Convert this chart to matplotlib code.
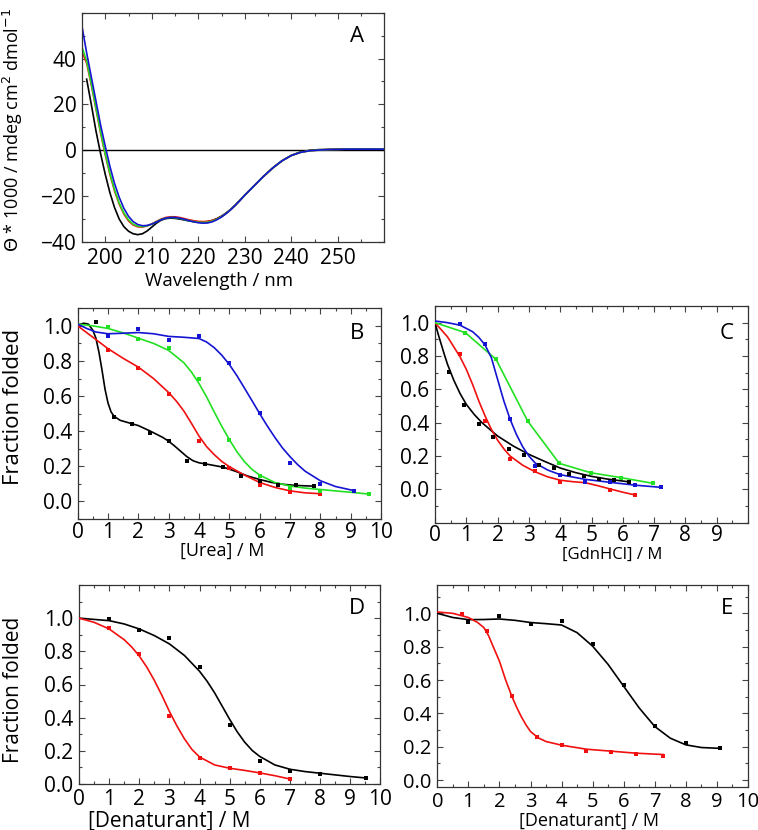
import matplotlib
matplotlib.use('Agg')
import matplotlib.pyplot as plt
from matplotlib.ticker import MultipleLocator, FixedLocator, FormatStrFormatter

plt.rcParams['font.family'] = ['Open Sans', 'DejaVu Sans']

# ---------------- Panel A : CD spectra ----------------
wl_a = [195, 196, 197, 198, 199, 200, 201, 202, 203, 204, 205, 206, 207, 208, 209,
        210, 211, 212, 213, 214, 215, 216, 217, 218, 219, 220, 221, 222, 223, 224,
        225, 226, 227, 228, 229, 230, 232, 234, 236, 238, 240, 242, 244, 246, 248,
        250, 252, 254, 256, 258, 260]
wl_a_black = wl_a[1:]
cd_black = [31.0, 20.0, 8.5, -1.5, -10.5, -18.5, -25.0, -30.0, -33.3, -35.3, -36.4, -36.8, -36.4, -35.2,
            -33.5, -31.8, -30.5, -29.8, -29.6, -29.7, -30.0, -30.4, -30.8, -31.1, -31.3, -31.3, -31.1, -30.6,
            -29.8, -28.7, -27.3, -25.7, -23.8, -21.7, -19.5, -15.5, -11.5, -7.8, -4.6, -2.2, -0.7, 0.0,
            0.3, 0.4, 0.5, 0.5, 0.5, 0.5, 0.5, 0.4]
cd_red = [43.0, 38.0, 28.5, 18.0, 7.5, -2.0, -10.5, -17.8, -23.5, -27.8, -30.8, -32.6, -33.4, -33.5, -33.0,
          -32.1, -31.0, -30.0, -29.3, -29.0, -29.0, -29.3, -29.8, -30.3, -30.7, -31.0, -31.1, -31.0, -30.6, -29.9,
          -28.9, -27.5, -25.8, -23.9, -21.8, -19.6, -15.5, -11.4, -7.7, -4.6, -2.3, -0.9, -0.2, 0.1, 0.3,
          0.4, 0.5, 0.5, 0.5, 0.5, 0.5]
cd_green = [45.0, 39.0, 29.0, 18.5, 8.0, -1.5, -10.0, -17.2, -23.0, -27.3, -30.3, -32.2, -33.1, -33.3, -32.9,
            -32.2, -31.2, -30.2, -29.6, -29.3, -29.4, -29.7, -30.2, -30.7, -31.1, -31.4, -31.5, -31.4, -30.9, -30.1,
            -29.0, -27.5, -25.8, -23.9, -21.8, -19.6, -15.5, -11.4, -7.7, -4.6, -2.3, -0.9, -0.2, 0.1, 0.3,
            0.4, 0.5, 0.5, 0.5, 0.5, 0.5]
cd_blue = [54.0, 42.5, 32.0, 21.5, 11.0, 1.8, -7.0, -14.5, -20.5, -25.3, -28.8, -31.1, -32.4, -32.9, -32.8,
           -32.2, -31.3, -30.3, -29.6, -29.3, -29.3, -29.6, -30.1, -30.7, -31.2, -31.6, -31.8, -31.7, -31.2, -30.3,
           -29.1, -27.6, -25.9, -23.9, -21.8, -19.6, -15.5, -11.4, -7.7, -4.6, -2.3, -0.9, -0.2, 0.1, 0.3,
           0.4, 0.5, 0.5, 0.5, 0.5, 0.5]

# ---------------- Panel B : urea ----------------
b_black_pts_x = [0.6, 1.2, 1.8, 2.4, 3.0, 3.6, 4.2, 4.8, 5.4, 6.0, 6.6, 7.2, 7.8]
b_black_pts_y = [1.02, 0.48, 0.44, 0.39, 0.345, 0.232, 0.213, 0.196, 0.143, 0.119, 0.094, 0.094, 0.087]
b_black_fit_x = [0.0, 0.2, 0.35, 0.5, 0.6, 0.7, 0.8, 0.9, 1.0, 1.1, 1.2, 1.4, 1.7, 2.0, 2.4, 2.8, 3.0,
                 3.2, 3.4, 3.6, 3.8, 4.0, 4.4, 4.8, 5.2, 5.6, 6.0, 6.4, 6.8, 7.2, 7.8]
b_black_fit_y = [1.005, 1.015, 1.01, 0.975, 0.93, 0.85, 0.75, 0.64, 0.56, 0.51, 0.485, 0.462, 0.447, 0.432,
                 0.40, 0.365, 0.343, 0.315, 0.285, 0.255, 0.232, 0.22, 0.208, 0.195, 0.172, 0.145, 0.125,
                 0.108, 0.097, 0.091, 0.087]
b_red_pts_x = [1, 2, 3, 4, 5, 6, 7, 8]
b_red_pts_y = [0.86, 0.762, 0.613, 0.347, 0.19, 0.092, 0.053, 0.042]
b_red_fit_x = [0, 0.5, 1.0, 1.5, 2.0, 2.5, 3.0, 3.25, 3.5, 3.75, 4.0, 4.25, 4.5, 4.75, 5.0, 5.5, 6.0,
               6.5, 7.0, 7.5, 8.0]
b_red_fit_y = [1.0, 0.935, 0.87, 0.815, 0.765, 0.70, 0.62, 0.572, 0.515, 0.445, 0.372, 0.312, 0.267,
               0.228, 0.198, 0.15, 0.108, 0.08, 0.06, 0.049, 0.044]
b_green_pts_x = [1, 2, 3, 4, 5, 6, 7, 8, 9.6]
b_green_pts_y = [0.993, 0.925, 0.874, 0.70, 0.351, 0.143, 0.077, 0.062, 0.04]
b_green_fit_x = [0, 0.5, 1.0, 1.5, 2.0, 2.5, 3.0, 3.5, 3.75, 4.0, 4.25, 4.5, 4.75, 5.0, 5.25, 5.5, 5.75,
                 6.0, 6.5, 7.0, 7.5, 8.0, 8.5, 9.0, 9.6]
b_green_fit_y = [1.01, 1.0, 0.985, 0.96, 0.93, 0.90, 0.86, 0.79, 0.737, 0.672, 0.595, 0.51, 0.428, 0.352,
                 0.283, 0.226, 0.182, 0.15, 0.108, 0.088, 0.076, 0.068, 0.06, 0.052, 0.042]
b_blue_pts_x = [1, 2, 3, 4, 5, 6, 7, 8, 9.1]
b_blue_pts_y = [0.942, 0.98, 0.921, 0.942, 0.789, 0.502, 0.219, 0.102, 0.062]
b_blue_fit_x = [0, 0.3, 0.6, 1.0, 1.5, 2.0, 2.5, 3.0, 3.5, 4.0, 4.25, 4.5, 4.75, 5.0, 5.25, 5.5, 5.75,
                6.0, 6.25, 6.5, 6.75, 7.0, 7.25, 7.5, 8.0, 8.5, 9.1]
b_blue_fit_y = [1.01, 0.985, 0.965, 0.955, 0.958, 0.962, 0.955, 0.94, 0.935, 0.928, 0.908, 0.876, 0.833,
                0.78, 0.716, 0.645, 0.573, 0.50, 0.43, 0.365, 0.305, 0.255, 0.21, 0.172, 0.118, 0.085, 0.062]

# ---------------- Panel C : GdnHCl ----------------
c_black_pts_x = [0.46, 0.93, 1.39, 1.86, 2.35, 2.83, 3.31, 3.79, 4.27, 4.75, 5.23, 5.71, 6.19]
c_black_pts_y = [0.704, 0.506, 0.392, 0.316, 0.245, 0.206, 0.148, 0.13, 0.09, 0.08, 0.062, 0.056, 0.042]
c_black_fit_x = [0, 0.1, 0.2, 0.3, 0.4, 0.6, 0.8, 1.0, 1.25, 1.5, 1.75, 2.0, 2.5, 3.0, 3.5, 4.0, 4.5,
                 5.0, 5.5, 6.2]
c_black_fit_y = [1.0, 0.932, 0.87, 0.808, 0.75, 0.655, 0.575, 0.51, 0.45, 0.40, 0.36, 0.32, 0.26, 0.21,
                 0.168, 0.128, 0.10, 0.078, 0.062, 0.045]
c_red_pts_x = [0.8, 1.6, 2.4, 3.2, 4.0, 4.8, 5.6, 6.4]
c_red_pts_y = [0.812, 0.41, 0.18, 0.112, 0.046, 0.046, -0.004, -0.034]
c_red_fit_x = [0, 0.4, 0.8, 1.0, 1.2, 1.4, 1.6, 1.8, 2.0, 2.2, 2.4, 2.8, 3.2, 3.6, 4.0, 4.4, 4.8, 5.2,
               5.6, 6.0, 6.4]
c_red_fit_y = [1.0, 0.915, 0.795, 0.72, 0.63, 0.53, 0.44, 0.36, 0.295, 0.243, 0.20, 0.145, 0.105, 0.075,
               0.055, 0.046, 0.04, 0.022, 0.002, -0.017, -0.034]
c_blue_pts_x = [0.8, 1.6, 2.4, 3.2, 4.0, 4.8, 5.6, 6.4, 7.23]
c_blue_pts_y = [0.992, 0.874, 0.422, 0.14, 0.086, 0.046, 0.044, 0.024, 0.012]
c_blue_fit_x = [0, 0.4, 0.8, 1.2, 1.4, 1.6, 1.8, 2.0, 2.2, 2.4, 2.6, 2.8, 3.0, 3.2, 3.6, 4.0, 4.8, 5.6,
                6.4, 7.23]
c_blue_fit_y = [1.01, 1.0, 0.985, 0.946, 0.912, 0.866, 0.79, 0.66, 0.53, 0.42, 0.33, 0.256, 0.20, 0.158,
                0.116, 0.088, 0.06, 0.042, 0.025, 0.012]
c_green_pts_x = [0.97, 1.95, 2.96, 3.97, 4.97, 5.95, 6.97]
c_green_pts_y = [0.94, 0.78, 0.41, 0.156, 0.10, 0.07, 0.036]
c_green_line_x = [0, 0.97, 1.95, 2.96, 3.97, 4.97, 5.95, 6.97]
c_green_line_y = [1.0, 0.94, 0.78, 0.41, 0.156, 0.10, 0.07, 0.036]

# ---------------- Panel D ----------------
d_black_pts_x = [1, 2, 3, 4, 5, 6, 7, 8, 9.54]
d_black_pts_y = [0.994, 0.929, 0.879, 0.705, 0.354, 0.141, 0.079, 0.063, 0.038]
d_black_fit_x = [0, 1, 1.5, 2, 2.5, 3, 3.5, 4, 4.25, 4.5, 4.75, 5, 5.25, 5.5, 5.75, 6, 6.5, 7, 7.5, 8,
                 8.5, 9, 9.54]
d_black_fit_y = [1.0, 0.985, 0.965, 0.935, 0.895, 0.845, 0.775, 0.68, 0.62, 0.55, 0.47, 0.39, 0.315,
                 0.252, 0.202, 0.166, 0.115, 0.089, 0.075, 0.065, 0.055, 0.045, 0.036]
d_red_pts_x = [1, 2, 3, 4, 5, 6, 7]
d_red_pts_y = [0.943, 0.782, 0.412, 0.156, 0.095, 0.065, 0.03]
d_red_fit_x = [0, 0.5, 1, 1.5, 1.75, 2, 2.25, 2.5, 2.75, 3, 3.25, 3.5, 3.75, 4, 4.5, 5, 5.5, 6, 6.5, 7]
d_red_fit_y = [1.0, 0.975, 0.935, 0.87, 0.826, 0.772, 0.705, 0.625, 0.535, 0.438, 0.35, 0.272, 0.208,
               0.163, 0.115, 0.095, 0.082, 0.067, 0.05, 0.03]

# ---------------- Panel E ----------------
e_black_pts_x = [1, 2, 3, 4, 5, 6, 7, 8, 9.1]
e_black_pts_y = [0.95, 0.986, 0.936, 0.954, 0.817, 0.57, 0.327, 0.223, 0.19]
e_black_fit_x = [0, 0.5, 1, 1.5, 2, 2.5, 3, 3.5, 4, 4.5, 5, 5.5, 6, 6.5, 7, 7.5, 8, 8.5, 9.1]
e_black_fit_y = [1.0, 0.975, 0.962, 0.963, 0.966, 0.958, 0.945, 0.938, 0.93, 0.884, 0.803, 0.693, 0.562,
                 0.432, 0.321, 0.251, 0.211, 0.195, 0.19]
e_red_pts_x = [0.78, 1.59, 2.41, 3.2, 4.0, 4.79, 5.59, 6.39, 7.27]
e_red_pts_y = [0.994, 0.894, 0.502, 0.257, 0.211, 0.175, 0.171, 0.159, 0.147]
e_red_fit_x = [0, 0.5, 1.0, 1.3, 1.5, 1.65, 1.8, 2.0, 2.2, 2.4, 2.55, 2.7, 2.85, 3.0, 3.25, 3.5, 4.0, 4.8,
               5.6, 6.4, 7.27]
e_red_fit_y = [1.008, 1.0, 0.975, 0.945, 0.914, 0.866, 0.80, 0.713, 0.60, 0.502, 0.438, 0.381, 0.332,
               0.291, 0.253, 0.231, 0.209, 0.185, 0.173, 0.161, 0.153]

BLACK = '#000000'
RED = '#f01010'
GREEN = '#22e022'
BLUE = '#1414d2'

W, H = 758, 830
fig = plt.figure(figsize=(W / 100, H / 100), dpi=100)


def box(l, t, r, b):
    return [l / W, 1 - b / H, (r - l) / W, (b - t) / H]


TICK_FS = 15


def style(ax, xmaj, xmin, ymaj, ymin, xpad=3, ypad=4, fs=TICK_FS):
    ax.xaxis.set_major_locator(xmaj)
    ax.xaxis.set_minor_locator(MultipleLocator(xmin))
    ax.yaxis.set_major_locator(ymaj)
    ax.yaxis.set_minor_locator(MultipleLocator(ymin))
    ax.tick_params(which='both', direction='in', top=True, right=True,
                   width=0.8, color='#444444', labelsize=fs)
    ax.tick_params(which='major', length=4)
    ax.tick_params(which='minor', length=2.5)
    ax.tick_params(axis='x', which='major', pad=xpad)
    ax.tick_params(axis='y', which='major', pad=ypad)
    for s in ax.spines.values():
        s.set_linewidth(0.9)
        s.set_color('#333333')


def series(ax, fx, fy, px, py, c):
    ax.plot(fx, fy, '-', color=c, lw=1.2, zorder=3)
    if px is not None:
        ax.plot(px, py, 's', color=c, ms=3.2, mew=0, zorder=4)


# Panel A
axA = fig.add_axes(box(82, 12.7, 384.3, 242))
axA.axhline(0, color='black', lw=1.0, zorder=2)
axA.plot(wl_a_black, cd_black, color=BLACK, lw=1.2)
axA.plot(wl_a, cd_red, color=RED, lw=1.2)
axA.plot(wl_a, cd_green, color=GREEN, lw=1.2)
axA.plot(wl_a, cd_blue, color=BLUE, lw=1.2)
axA.set_xlim(195, 260)
axA.set_ylim(-40, 60)
style(axA, FixedLocator([200, 210, 220, 230, 240, 250]), 5,
      FixedLocator([-40, -20, 0, 20, 40]), 10, xpad=4.5)

# Panel B
axB = fig.add_axes(box(77.7, 308.3, 381, 519))
series(axB, b_black_fit_x, b_black_fit_y, b_black_pts_x, b_black_pts_y, BLACK)
series(axB, b_red_fit_x, b_red_fit_y, b_red_pts_x, b_red_pts_y, RED)
series(axB, b_green_fit_x, b_green_fit_y, b_green_pts_x, b_green_pts_y, GREEN)
series(axB, b_blue_fit_x, b_blue_fit_y, b_blue_pts_x, b_blue_pts_y, BLUE)
axB.set_xlim(0, 10)
axB.set_ylim(-0.1, 1.1)
style(axB, FixedLocator(list(range(0, 11))), 0.5,
      FixedLocator([0.0, 0.2, 0.4, 0.6, 0.8, 1.0]), 0.1, xpad=2.5)

# Panel C
axC = fig.add_axes(box(435, 306, 748, 522.7))
series(axC, c_black_fit_x, c_black_fit_y, c_black_pts_x, c_black_pts_y, BLACK)
series(axC, c_red_fit_x, c_red_fit_y, c_red_pts_x, c_red_pts_y, RED)
series(axC, c_green_line_x, c_green_line_y, c_green_pts_x, c_green_pts_y, GREEN)
series(axC, c_blue_fit_x, c_blue_fit_y, c_blue_pts_x, c_blue_pts_y, BLUE)
axC.set_xlim(0, 10)
axC.set_ylim(-0.2, 1.1)
style(axC, FixedLocator(list(range(0, 10))), 0.5,
      FixedLocator([0.0, 0.2, 0.4, 0.6, 0.8, 1.0]), 0.1, xpad=2)

# Panel D
axD = fig.add_axes(box(79, 585, 380.3, 784))
series(axD, d_black_fit_x, d_black_fit_y, d_black_pts_x, d_black_pts_y, BLACK)
series(axD, d_red_fit_x, d_red_fit_y, d_red_pts_x, d_red_pts_y, RED)
axD.set_xlim(0, 10)
axD.set_ylim(0, 1.2)
style(axD, FixedLocator(list(range(0, 11))), 0.5,
      FixedLocator([0.0, 0.2, 0.4, 0.6, 0.8, 1.0]), 0.1, xpad=3.5)

# Panel E
axE = fig.add_axes(box(437.3, 585, 748, 786.7))
series(axE, e_black_fit_x, e_black_fit_y, e_black_pts_x, e_black_pts_y, BLACK)
series(axE, e_red_fit_x, e_red_fit_y, e_red_pts_x, e_red_pts_y, RED)
axE.set_xlim(0, 10)
axE.set_ylim(-0.04, 1.17)
style(axE, FixedLocator(list(range(0, 11))), 0.5,
      FixedLocator([0.0, 0.2, 0.4, 0.6, 0.8, 1.0]), 0.1, xpad=3.5, fs=14.5)

for ax in (axB, axC, axD, axE):
    ax.yaxis.set_major_formatter(FormatStrFormatter('%.1f'))


def ftext(x, y, s, **kw):
    fig.text(x / W, 1 - y / H, s, **kw)


# Axis labels
ftext(13, 130, r'$\Theta$ * 1000 / mdeg cm$^2$ dmol$^{-1}$', rotation=90, ha='center', va='center',
      fontsize=13)
ftext(219, 281, 'Wavelength / nm', ha='center', va='center', fontsize=13.5)
ftext(14, 407, 'Fraction folded', rotation=90, ha='center', va='center', fontsize=16)
ftext(222, 551, '[Urea] / M', ha='center', va='center', fontsize=13)
ftext(612, 555, '[GdnHCl] / M', ha='center', va='center', fontsize=12)
ftext(14, 690, 'Fraction folded', rotation=90, ha='center', va='center', fontsize=15)
ftext(169, 821, '[Denaturant] / M', ha='center', va='center', fontsize=15)
ftext(589, 821, '[Denaturant] / M', ha='center', va='center', fontsize=13)

# Panel letters
for (x, y, s) in [(357, 36, 'A'), (357, 333, 'B'), (727, 333, 'C'), (357, 608, 'D'), (727, 608, 'E')]:
    ftext(x, y, s, ha='center', va='center', fontsize=16)

fig.savefig('out.png', dpi=100)
